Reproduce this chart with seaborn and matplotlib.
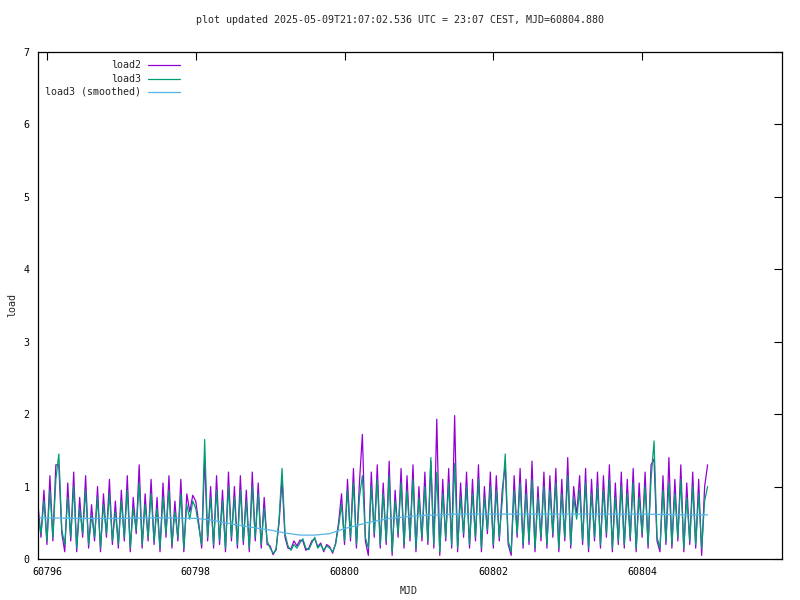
import numpy as np
import pandas as pd
import matplotlib
matplotlib.use("Agg")
import matplotlib.pyplot as plt
import seaborn as sns

# sampling grid of the load records
mjd_start = 60795.88
mjd_step = 0.04

load2 = [
    0.75, 0.30, 0.95, 0.20, 1.15, 0.25, 1.30, 1.30, 0.35, 0.10,
    1.05, 0.25, 1.20, 0.10, 0.85, 0.30, 1.15, 0.15, 0.75, 0.25,
    1.00, 0.10, 0.90, 0.30, 1.10, 0.20, 0.80, 0.15, 0.95, 0.25,
    1.15, 0.10, 0.85, 0.35, 1.30, 0.15, 0.90, 0.25, 1.10, 0.20,
    0.85, 0.10, 1.05, 0.30, 1.15, 0.15, 0.80, 0.25, 1.10, 0.10,
    0.90, 0.65, 0.88, 0.80, 0.50, 0.15, 1.40, 0.25, 1.00, 0.15,
    1.15, 0.20, 0.95, 0.10, 1.20, 0.25, 1.00, 0.15, 1.15, 0.20,
    0.95, 0.10, 1.20, 0.25, 1.05, 0.15, 0.85, 0.20,
    0.18, 0.06, 0.14, 0.50, 1.10, 0.30, 0.15, 0.14, 0.25, 0.18,
    0.26, 0.25, 0.12, 0.15, 0.25, 0.28, 0.17, 0.22, 0.10, 0.20,
    0.17, 0.08, 0.22, 0.50,
    0.90, 0.20, 1.10, 0.25, 1.25, 0.15, 1.05, 1.72, 0.25, 0.05,
    1.20, 0.30, 1.30, 0.15, 1.05, 0.20, 1.35, 0.05, 0.95, 0.30,
    1.25, 0.15, 1.15, 0.25, 1.30, 0.10, 1.00, 0.25, 1.20, 0.20,
    1.35, 0.15, 1.93, 0.05, 1.10, 0.25, 1.25, 0.15, 1.98, 0.10,
    1.05, 0.30, 1.20, 0.15, 1.10, 0.25, 1.30, 0.10, 1.00, 0.35,
    1.20, 0.15, 1.15, 0.25, 0.95, 1.30, 0.20, 0.05, 1.15, 0.30,
    1.25, 0.15, 1.10, 0.20, 1.35, 0.10, 1.00, 0.25, 1.20, 0.15,
    1.15, 0.30, 1.25, 0.10, 1.10, 0.25, 1.40, 0.15, 1.00, 0.60,
    1.15, 0.20, 1.25, 0.10, 1.10, 0.25, 1.20, 0.15, 1.15, 0.30,
    1.30, 0.10, 1.05, 0.20, 1.20, 0.15, 1.10, 0.25, 1.25, 0.10,
    1.05, 0.30, 1.20, 0.15, 1.30, 1.38, 0.25, 0.10, 1.15, 0.20,
    1.40, 0.15, 1.10, 0.25, 1.30, 0.10, 1.05, 0.20, 1.20, 0.15,
    1.10, 0.05, 1.00, 1.30,
]

load3 = [
    0.62, 0.35, 0.80, 0.25, 0.95, 0.30, 1.10, 1.45, 0.40, 0.20,
    0.85, 0.30, 1.00, 0.15, 0.70, 0.35, 0.95, 0.20, 0.60, 0.30,
    0.85, 0.15, 0.75, 0.35, 0.90, 0.25, 0.65, 0.20, 0.80, 0.30,
    0.95, 0.15, 0.70, 0.40, 1.05, 0.20, 0.75, 0.30, 0.90, 0.25,
    0.70, 0.15, 0.85, 0.35, 0.95, 0.20, 0.65, 0.30, 0.90, 0.15,
    0.75, 0.55, 0.80, 0.70, 0.45, 0.20, 1.65, 0.30, 0.85, 0.20,
    0.95, 0.25, 0.80, 0.15, 1.00, 0.30, 0.85, 0.20, 0.95, 0.25,
    0.80, 0.15, 1.00, 0.30, 0.90, 0.20, 0.70, 0.25,
    0.15, 0.08, 0.12, 0.55, 1.25, 0.35, 0.18, 0.12, 0.20, 0.15,
    0.22, 0.28, 0.15, 0.13, 0.22, 0.30, 0.15, 0.20, 0.12, 0.18,
    0.15, 0.10, 0.20, 0.45,
    0.75, 0.25, 0.95, 0.30, 1.05, 0.20, 0.85, 1.15, 0.30, 0.15,
    1.00, 0.35, 1.10, 0.20, 0.90, 0.25, 1.15, 0.10, 0.80, 0.35,
    1.05, 0.20, 0.95, 0.30, 1.10, 0.15, 0.85, 0.30, 1.00, 0.25,
    1.40, 0.20, 1.20, 0.10, 0.90, 0.30, 1.05, 0.20, 1.32, 0.15,
    0.85, 0.35, 1.00, 0.20, 0.90, 0.30, 1.10, 0.15, 0.85, 0.40,
    1.00, 0.20, 0.95, 0.30, 0.80, 1.45, 0.25, 0.10, 0.95, 0.35,
    1.05, 0.20, 0.90, 0.25, 1.10, 0.15, 0.85, 0.30, 1.00, 0.20,
    0.95, 0.35, 1.05, 0.15, 0.90, 0.30, 1.15, 0.20, 0.85, 0.55,
    0.95, 0.25, 1.05, 0.15, 0.90, 0.30, 1.00, 0.20, 0.95, 0.35,
    1.10, 0.15, 0.85, 0.25, 1.00, 0.20, 0.90, 0.30, 1.05, 0.15,
    0.85, 0.35, 1.00, 0.20, 1.10, 1.63, 0.30, 0.15, 0.95, 0.25,
    1.05, 0.20, 0.90, 0.30, 1.10, 0.15, 0.85, 0.25, 1.00, 0.20,
    0.90, 0.15, 0.80, 1.00,
]

smooth_mjd = [60795.88, 60796.5, 60797.0, 60797.5, 60798.0, 60798.2, 60798.5,
              60798.8, 60799.0, 60799.2, 60799.4, 60799.6, 60799.8, 60800.0,
              60800.3, 60800.6, 60801.0, 60801.5, 60802.0, 60803.0, 60804.0,
              60804.5, 60804.88]
smooth_load3 = [0.57, 0.56, 0.56, 0.57, 0.56, 0.54, 0.48, 0.43, 0.40, 0.36,
                0.33, 0.33, 0.35, 0.42, 0.50, 0.56, 0.60, 0.62, 0.62, 0.62,
                0.62, 0.61, 0.61]

title_text = "plot updated 2025-05-09T21:07:02.536 UTC = 23:07 CEST, MJD=60804.880"
x_ticks = [60796, 60798, 60800, 60802, 60804]
y_ticks = [0, 1, 2, 3, 4, 5, 6, 7]

c2 = "#9400D3"
c3 = "#009E73"
cs = "#56B4E9"

sns.set_style("white")
plt.rcParams["font.family"] = ["DejaVu Sans Mono"]
plt.rcParams["font.size"] = 7.2

mjd = mjd_start + mjd_step * np.arange(len(load2))
df = pd.DataFrame({"mjd": mjd, "load2": load2, "load3": load3})
dfs = pd.DataFrame({"mjd": smooth_mjd, "smooth": smooth_load3})

fig = plt.figure(figsize=(8, 6), dpi=100)
ax = fig.add_axes([38 / 800, 1 - 559 / 600, 744 / 800, 507 / 600])

lw = 0.9
sns.lineplot(data=df, x="mjd", y="load2", ax=ax, color=c2, lw=lw,
             estimator=None, sort=False)
sns.lineplot(data=df, x="mjd", y="load3", ax=ax, color=c3, lw=lw,
             estimator=None, sort=False)
sns.lineplot(data=dfs, x="mjd", y="smooth", ax=ax, color=cs, lw=lw,
             estimator=None, sort=False)

ax.set_xlim(60795.88, 60805.88)
ax.set_ylim(0, 7)
ax.set_xticks(x_ticks)
ax.set_xticklabels([str(t) for t in x_ticks])
ax.set_yticks(y_ticks)
ax.set_yticklabels([str(t) for t in y_ticks])
ax.tick_params(direction="in", length=6, width=0.8, top=True, right=True,
               labelsize=7.2, colors="black", pad=6)
for s in ax.spines.values():
    s.set_color("black")
    s.set_linewidth(0.9)
    s.set_visible(True)
ax.set_xlabel("")
ax.set_ylabel("")
fig.text(409 / 800, 1 - 591 / 600, "MJD", ha="center", va="center", fontsize=7.2)
fig.text(12 / 800, 1 - 305 / 600, "load", ha="center", va="center",
         rotation=90, fontsize=7.2)
fig.text(0.5, 1 - 20 / 600, title_text, ha="center", va="center", fontsize=7.2)

# legend (gnuplot style: right-aligned text, sample line on the right)
labels = ["load2", "load3", "load3 (smoothed)"]
colors = [c2, c3, cs]
for k, (lab, col) in enumerate(zip(labels, colors)):
    ypx = 65 + 13.5 * k
    yf = 1 - ypx / 600
    fig.text(141 / 800, yf, lab, ha="right", va="center", fontsize=7.2)
    fig.add_artist(plt.Line2D([148 / 800, 180 / 800], [yf, yf], color=col, lw=lw))

fig.savefig("out.png", dpi=100)
